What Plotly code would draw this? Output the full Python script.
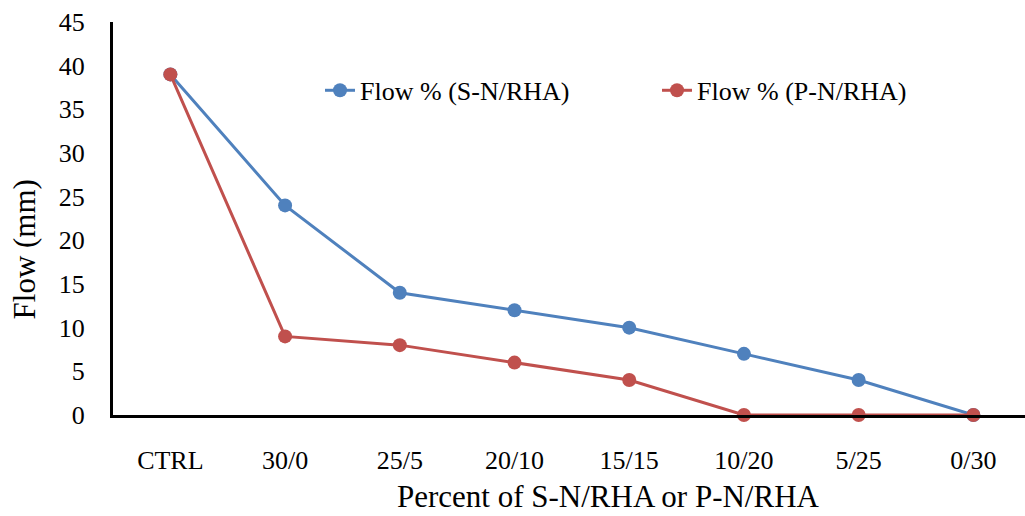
import plotly.graph_objects as go

categories = ["CTRL", "30/0", "25/5", "20/10", "15/15", "10/20", "5/25", "0/30"]
flow_sn = [39, 24, 14, 12, 10, 7, 4, 0]
flow_pn = [39, 9, 8, 6, 4, 0, 0, 0]

FONT = "Liberation Serif, Times New Roman, serif"
BLUE = "#4f81bd"
RED = "#c0504d"

fig = go.Figure()
fig.add_trace(go.Scatter(
    x=categories, y=flow_sn, name="Flow % (S-N/RHA)",
    mode="lines+markers",
    line=dict(color=BLUE, width=3),
    marker=dict(size=14, color=BLUE),
    cliponaxis=False,
))
fig.add_trace(go.Scatter(
    x=categories, y=flow_pn, name="Flow % (P-N/RHA)",
    mode="lines+markers",
    line=dict(color=RED, width=3),
    marker=dict(size=14, color=RED),
    cliponaxis=False,
))

# axis titles as paper annotations so the plot area stays put
fig.add_annotation(
    text="Percent of S-N/RHA or P-N/RHA", xref="paper", yref="paper",
    x=0.543, y=-0.208, xanchor="center", yanchor="middle",
    showarrow=False, font=dict(size=31),
)
fig.add_annotation(
    text="Flow (mm)", xref="paper", yref="paper",
    x=-0.097, y=0.42, xanchor="center", yanchor="middle",
    textangle=-90, showarrow=False, font=dict(size=31),
)

fig.update_layout(
    width=1025, height=516,
    paper_bgcolor="white", plot_bgcolor="white",
    font=dict(family=FONT, size=26, color="black"),
    margin=dict(l=113, r=0, t=22, b=101, autoexpand=False),
    showlegend=True,
    legend=dict(
        orientation="h", x=0.227, y=0.826, xanchor="left", yanchor="middle",
        bgcolor="rgba(0,0,0,0)", font=dict(size=26),
        entrywidth=292, entrywidthmode="pixels",
    ),
    xaxis=dict(
        type="category", range=[-0.5, 7.45], automargin=False,
        showgrid=False, zeroline=False,
        showline=True, linecolor="black", linewidth=3,
        ticks="", ticklabelstandoff=20,
    ),
    yaxis=dict(
        range=[0, 45], dtick=5, automargin=False,
        showgrid=False, zeroline=False,
        showline=True, linecolor="black", linewidth=3,
        ticks="", ticklabelstandoff=20,
    ),
)

# drop the default body margin so the 1025x516 figure fills the window exactly
fig.write_html(
    "out.html",
    config={"displayModeBar": False},
    post_script="document.body.style.margin='0';",
)
